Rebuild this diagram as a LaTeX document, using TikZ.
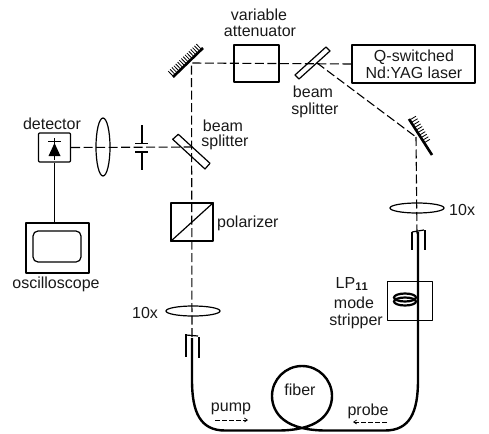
\documentclass[tikz,border=0pt]{standalone}
\usepackage{fontspec}
\setmainfont{Liberation Sans}
\usetikzlibrary{arrows.meta,decorations.pathreplacing,shapes.geometric}
\tikzset{
  lbl/.style={inner sep=0pt,font=\fontsize{16}{16}\selectfont,text=black!90},
  optic/.style={draw=black,line width=1.2pt,line join=round},
  beam/.style={draw=black,line width=1.1pt,dash pattern=on 9pt off 3.5pt},
  fibre/.style={draw=black,line width=2.4pt},
  mirrorface/.style={draw=black,line width=2.6pt},
  hatch/.style={draw=black,line width=0.8pt},
  wire/.style={draw=black,line width=1.7pt},
  flow/.style={draw=black,line width=0.7pt,dash pattern=on 5pt off 2pt,-{Straight Barb[length=3pt,width=4pt]}}
}
\begin{document}
\begin{tikzpicture}[x=1pt,y=-1pt]
\useasboundingbox (0,0) rectangle (489,433);
% coordinates
\coordinate (mirA) at (191.5,63);
\coordinate (bsA) at (191.5,147);
\coordinate (bsB) at (317,63);
\coordinate (mirB) at (416,137);
\coordinate (lensA) at (193,311);
\coordinate (lensB) at (417,208);
\coordinate (beamEndA) at (192,338);
\coordinate (beamEndB) at (417,235);
% laser, attenuator
\node[optic,draw,minimum width=123pt,minimum height=38pt,inner sep=0pt,line width=1.4pt] (laser) at (413.5,64) {};
\node[lbl,align=center,font=\fontsize{16}{17}\selectfont] (lasertxt) at (414,64) {Q-switched\\Nd:YAG laser};
\node[optic,minimum width=45pt,minimum height=37pt,inner sep=0pt,draw] (atten) at (256.5,63.5) {};
% polarizer
\node[optic,draw,minimum width=42pt,minimum height=38pt,inner sep=0pt] (pol) at (192,222) {};
\draw[optic] (pol.south west) -- (pol.north east);
% detector
\node[optic,draw,rounded corners=1pt,minimum width=32pt,minimum height=29pt,inner sep=0pt] (det) at (54.5,147.5) {};
% scope
\node[optic,draw,minimum width=63pt,minimum height=50pt,inner sep=0pt] (scope) at (57.5,248) {};
\node[optic,draw,rounded corners=5pt,minimum width=48pt,minimum height=31pt,inner sep=0pt] (screen) at (57,246.5) {};
% lenses
\node[optic,draw,ellipse,minimum width=14pt,minimum height=58pt,inner sep=0pt] (lensD) at (103,147) {};
\node[optic,draw,ellipse,minimum width=54pt,minimum height=10pt,inner sep=0pt] (lensP) at (lensA) {};
\node[optic,draw,ellipse,minimum width=54pt,minimum height=10pt,inner sep=0pt] (lensS) at (lensB) {};
% iris
\coordinate (irisT) at (142,125);
\coordinate (irisB) at (142,170);
\draw[wire] (irisT) -- (142,143);
\draw[wire] (142,152) -- (irisB);
\draw[optic] (135,143.5) -- (148,143.5);
\draw[optic] (135,152) -- (148,152);
% beams
\draw[beam] (det.east) -- (bsA);
\draw[beam] (laser.west) -- (mirA) -- (beamEndA);
\draw[beam] (bsB) -- (mirB) ;
\draw[beam] (mirB) -- (beamEndB);
% splitters
\draw[optic] (178.3,134.3) -- (172.7,139.3) -- (205,169) -- (210,163.3) -- cycle;
\draw[optic] (326,47) -- (330,51) -- (299,79) -- (295,75) -- cycle;
% mirrors
\draw[mirrorface] (173,77) -- (203,48);
\draw[hatch,decorate,decoration={ticks,segment length=2.6pt,amplitude=4pt,mirror}] (171,74) -- (200,46);
\draw[mirrorface] (409,119) -- (432,155);
\draw[hatch,decorate,decoration={ticks,segment length=3pt,amplitude=3.5pt}] (413,118) -- (428,143);
% detector symbol
\draw[wire] (54.5,138) -- (54.5,160);
\draw[optic] (48,141.5) -- (61,141.5);
\fill (54.5,143) -- (48.5,156) -- (60.5,156) -- cycle;
\draw[wire] (det.south) -- (det.south |- scope.north);
% holders
\draw[optic] (186,334) -- (186,357);
\draw[optic] (186,335) -- (198,336);
\draw[optic] (199,337) -- (199,358);
\draw[optic] (412,232) -- (412,250);
\draw[optic] (412,232) -- (424,230);
\draw[optic] (425,230) -- (425,250);
% fibre
\draw[fibre,line join=round] (418,232) -- (418,380)
  .. controls (418,412) and (410,430.5) .. (385,430.5)
  -- (326,430.5) .. controls (308,430.5) and (293,427) .. (284,420)
  .. controls (276,414) and (272,405) .. (272,396)
  .. controls (272,379.5) and (285.5,366) .. (302,366)
  .. controls (318.5,366) and (332,379.5) .. (332,396)
  .. controls (332,405) and (328,414) .. (320,420)
  .. controls (311,427) and (296,430.5) .. (278,430.5)
  -- (225,430.5) .. controls (200,430.5) and (192,412) .. (192,380) -- (192,338);
% stripper
\draw[optic,line width=.9pt] (387,320) -- (387,281) -- (432,281) -- (432,320) -- cycle;
\draw[line width=2.2pt] (405,297.5) ellipse (11pt and 4pt);
\draw[line width=2.2pt] (405,301.5) ellipse (11pt and 4pt);
% text
\node[lbl] (t1) at (52,124) {detector};
\node[lbl] (t2) at (56,284) {oscilloscope};
\node[lbl] (t3) at (259,15) {variable};
\node[lbl] (t4) at (260,31) {attenuator};
\node[lbl] (t5) at (313,92) {beam};
\node[lbl] (t6) at (315,110) {splitter};
\node[lbl] (t7) at (223,126) {beam};
\node[lbl] (t8) at (225,142) {splitter};
\node[lbl,anchor=west] (t9) at (217,223) {polarizer};
\node[lbl,anchor=west] (t10) at (449,210) {10x};
\node[lbl] (t11) at (145,313) {10x};
\node[lbl] (t12) at (352,284) {LP$_{\mathbf{11}}$};
\node[lbl] (t13) at (354,303) {mode};
\node[lbl,anchor=east] (t14) at (383,321) {stripper};
\node[lbl] (t15) at (300,390) {fiber};
\node[lbl] (t16) at (231,409) {pump};
\node[lbl] (t17) at (368,411) {probe};
\coordinate (a1) at (215,420); \coordinate (a2) at (248,420);
\coordinate (b1) at (387,422); \coordinate (b2) at (353,422);
\draw[flow] (a1) -- (a2);
\draw[flow] (b1) -- (b2);
\end{tikzpicture}
\end{document}
